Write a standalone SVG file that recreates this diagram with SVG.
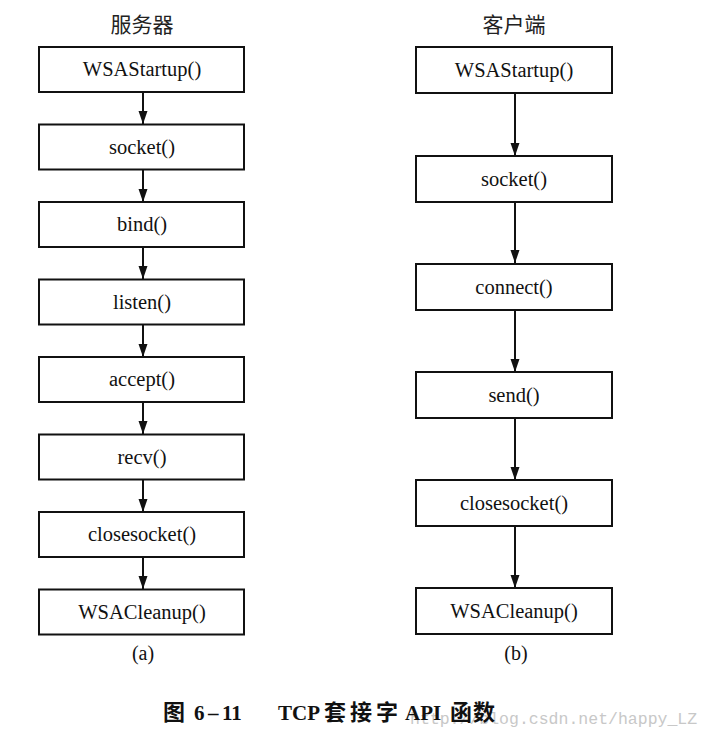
<svg xmlns="http://www.w3.org/2000/svg" width="711" height="737" viewBox="0 0 711 737">
<style>
.box{fill:#fff;stroke:#111;stroke-width:2}
.lbl{font-family:"Liberation Serif","Times New Roman",serif;font-size:20.5px;fill:#111;text-anchor:middle}
.hd{font-family:"Noto Sans CJK SC",sans-serif;font-size:21px;fill:#222;text-anchor:middle}
.conn line{stroke:#111;stroke-width:2}
.cap{font-family:"Liberation Serif","Noto Sans CJK SC",serif;font-weight:bold;font-size:21px;fill:#111}
.cj{font-family:"Noto Sans CJK SC",sans-serif;font-size:22px}
.wm{font-family:"Liberation Mono",monospace;font-size:16.5px;fill:#c8c8c8}
</style>
<defs>
<marker id="ah" markerWidth="13" markerHeight="10" refX="13" refY="4.5" orient="auto" markerUnits="userSpaceOnUse">
<path d="M0,0 L13,4.5 L0,9 Z" fill="#111"/>
</marker>
</defs>
<rect width="711" height="737" fill="#fff"/>
<text class="hd" x="142" y="32">服务器</text>
<text class="hd" x="514" y="32">客户端</text>
<g class="conn">
<line x1="143" y1="92" x2="143" y2="124" marker-end="url(#ah)"/>
<line x1="143" y1="170" x2="143" y2="202" marker-end="url(#ah)"/>
<line x1="143" y1="247" x2="143" y2="279" marker-end="url(#ah)"/>
<line x1="143" y1="325" x2="143" y2="357" marker-end="url(#ah)"/>
<line x1="143" y1="402" x2="143" y2="434" marker-end="url(#ah)"/>
<line x1="143" y1="480" x2="143" y2="512" marker-end="url(#ah)"/>
<line x1="143" y1="557" x2="143" y2="589" marker-end="url(#ah)"/>
<line x1="515" y1="93" x2="515" y2="156" marker-end="url(#ah)"/>
<line x1="515" y1="202" x2="515" y2="263" marker-end="url(#ah)"/>
<line x1="515" y1="310" x2="515" y2="372" marker-end="url(#ah)"/>
<line x1="515" y1="418" x2="515" y2="480" marker-end="url(#ah)"/>
<line x1="515" y1="526" x2="515" y2="588" marker-end="url(#ah)"/>
</g>
<g id="s1"><rect class="box" x="39" y="47" width="205" height="45"/><text class="lbl" x="142" y="76">WSAStartup()</text></g>
<g id="s2"><rect class="box" x="39" y="124.5" width="205" height="45"/><text class="lbl" x="142" y="153.5">socket()</text></g>
<g id="s3"><rect class="box" x="39" y="202" width="205" height="45"/><text class="lbl" x="142" y="231">bind()</text></g>
<g id="s4"><rect class="box" x="39" y="279.5" width="205" height="45"/><text class="lbl" x="142" y="308.5">listen()</text></g>
<g id="s5"><rect class="box" x="39" y="357" width="205" height="45"/><text class="lbl" x="142" y="386">accept()</text></g>
<g id="s6"><rect class="box" x="39" y="434.5" width="205" height="45"/><text class="lbl" x="142" y="463.5">recv()</text></g>
<g id="s7"><rect class="box" x="39" y="512" width="205" height="45"/><text class="lbl" x="142" y="541">closesocket()</text></g>
<g id="s8"><rect class="box" x="39" y="589.5" width="205" height="45"/><text class="lbl" x="142" y="618.5">WSACleanup()</text></g>
<text class="lbl" x="143" y="660" style="font-size:20px">(a)</text>
<g id="c1"><rect class="box" x="416" y="47" width="196" height="46"/><text class="lbl" x="514" y="76.5">WSAStartup()</text></g>
<g id="c2"><rect class="box" x="416" y="156" width="196" height="46"/><text class="lbl" x="514" y="185.5">socket()</text></g>
<g id="c3"><rect class="box" x="416" y="264" width="196" height="46"/><text class="lbl" x="514" y="293.5">connect()</text></g>
<g id="c4"><rect class="box" x="416" y="372" width="196" height="46"/><text class="lbl" x="514" y="401.5">send()</text></g>
<g id="c5"><rect class="box" x="416" y="480" width="196" height="46"/><text class="lbl" x="514" y="509.5">closesocket()</text></g>
<g id="c6"><rect class="box" x="416" y="588" width="196" height="46"/><text class="lbl" x="514" y="617.5">WSACleanup()</text></g>
<text class="lbl" x="516" y="660" style="font-size:20px">(b)</text>
<text class="wm" x="410" y="724">http://blog.csdn.net/happy_LZ</text>
<text class="cap" y="720"><tspan class="cj" x="163">图</tspan><tspan x="194">6</tspan><tspan x="208">–</tspan><tspan x="222">11</tspan><tspan x="278">TCP</tspan><tspan class="cj" x="324">套</tspan><tspan class="cj" x="350">接</tspan><tspan class="cj" x="376">字</tspan><tspan x="405">API</tspan><tspan class="cj" x="450">函</tspan><tspan class="cj" x="473">数</tspan></text>
</svg>
